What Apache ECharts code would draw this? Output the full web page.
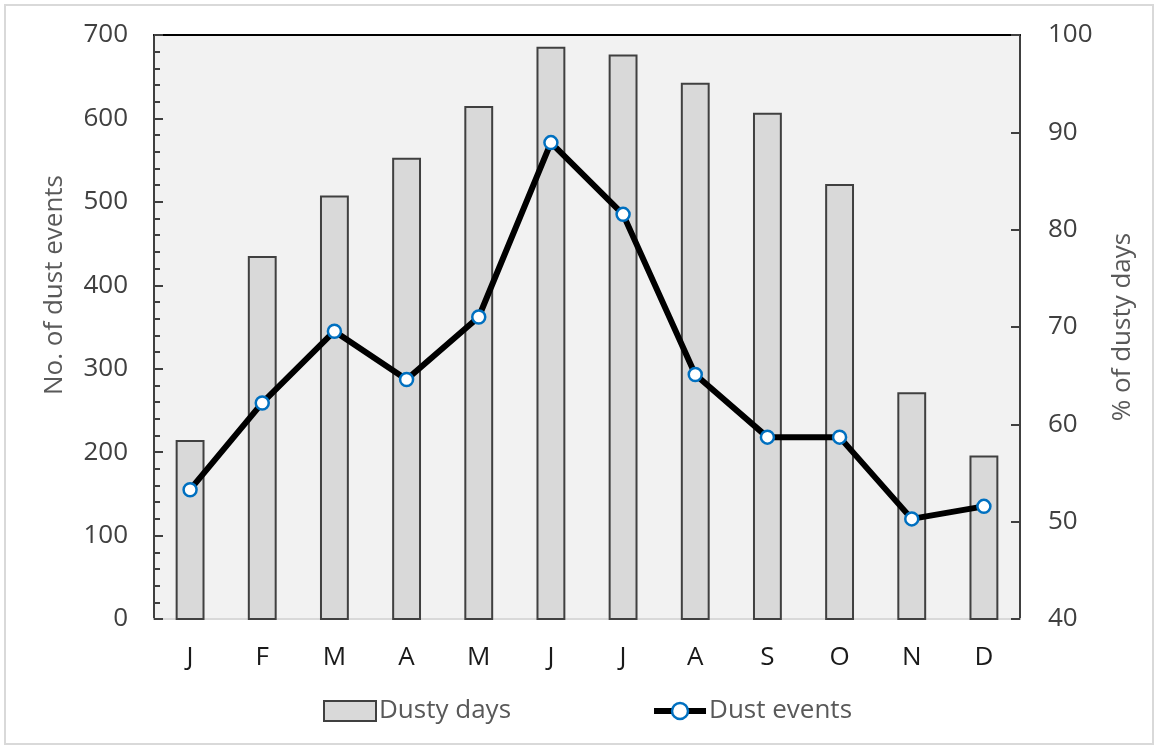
<!DOCTYPE html>
<html>
<head>
<meta charset="utf-8">
<script src="https://cdn.jsdelivr.net/npm/echarts@6/dist/echarts.min.js"></script>
<style>
  html, body { margin: 0; padding: 0; background: #ffffff; }
  #chart { width: 1158px; height: 749px; }
</style>
</head>
<body>
<div id="chart"></div>
<script>
// Months of the year
const months = ['J', 'F', 'M', 'A', 'M', 'J', 'J', 'A', 'S', 'O', 'N', 'D'];
// Percentage of dusty days per month (right axis)
const dustyDays = [58.4, 77.3, 83.5, 87.4, 92.7, 98.8, 98.0, 95.1, 92.0, 84.7, 63.3, 56.8];
// Number of dust events per month (left axis)
const dustEvents = [155, 259, 345, 287, 362, 571, 485, 293, 218, 218, 120, 135];

const FONT = '"Open Sans", "Noto Sans", sans-serif';

const chart = echarts.init(document.getElementById('chart'), null, { renderer: 'canvas' });

chart.setOption({
  backgroundColor: '#ffffff',
  animation: false,
  textStyle: { fontFamily: FONT },
  graphic: [{
    type: 'rect',
    shape: { x: 5, y: 5, width: 1148, height: 739 },
    style: { fill: 'none', stroke: '#d9d9d9', lineWidth: 2 },
    silent: true
  }],
  grid: {
    left: 154, right: 138, top: 35, bottom: 130,
    show: true, backgroundColor: '#f2f2f2', borderWidth: 0
  },
  legend: {
    bottom: 20,
    left: 318,
    itemGap: 140,
    itemWidth: 52,
    itemHeight: 20,
    textStyle: { fontFamily: FONT, fontSize: 26, color: '#595959', padding: [0, 0, 0, -2] },
    data: [
      {
        name: 'Dusty days',
        icon: 'rect',
        itemStyle: { color: '#d9d9d9', borderColor: '#404040', borderWidth: 2 }
      },
      {
        name: 'Dust events',
        lineStyle: { color: '#000000', width: 6 },
        itemStyle: { color: '#ffffff', borderColor: '#0070c0', borderWidth: 2.5 }
      }
    ]
  },
  xAxis: [{
    type: 'category',
    data: months,
    position: 'bottom',
    axisLine: { show: true, lineStyle: { color: '#d9d9d9', width: 2 } },
    axisTick: { show: false },
    axisLabel: { fontFamily: FONT, fontSize: 26, color: '#1a1a1a', margin: 26 },
    splitLine: { show: false }
  }, {
    type: 'category',
    data: months,
    position: 'top',
    axisLine: { show: true, lineStyle: { color: '#000000', width: 2 } },
    axisTick: { show: false },
    axisLabel: { show: false },
    splitLine: { show: false }
  }],
  yAxis: [{
    type: 'value',
    position: 'left',
    min: 0, max: 700, interval: 100,
    name: 'No. of dust events',
    nameLocation: 'middle',
    nameRotate: 90,
    nameGap: 86,
    nameTextStyle: { fontFamily: FONT, fontSize: 26, color: '#595959', padding: [0, 0, 0, 84] },
    axisLine: { show: true, lineStyle: { color: '#404040', width: 2 } },
    axisTick: { show: true, inside: true, length: 9, lineStyle: { color: '#404040', width: 2 } },
    minorTick: { show: true, splitNumber: 5, length: 6, lineStyle: { color: '#404040', width: 2 } },
    axisLabel: { fontFamily: FONT, fontSize: 26, color: '#404040', margin: 26 },
    splitLine: { show: false }
  }, {
    type: 'value',
    position: 'right',
    min: 40, max: 100, interval: 10,
    name: '% of dusty days',
    nameLocation: 'middle',
    nameRotate: 90,
    nameGap: 90,
    nameTextStyle: { fontFamily: FONT, fontSize: 26, color: '#595959' },
    axisLine: { show: true, lineStyle: { color: '#404040', width: 2 } },
    axisTick: { show: true, inside: true, length: 9, lineStyle: { color: '#404040', width: 2 } },
    axisLabel: { fontFamily: FONT, fontSize: 26, color: '#404040', margin: 28 },
    splitLine: { show: false }
  }],
  series: [{
    name: 'Dusty days',
    type: 'bar',
    xAxisIndex: 0,
    yAxisIndex: 1,
    data: dustyDays,
    barWidth: '40%',
    itemStyle: { color: '#d9d9d9', borderColor: '#404040', borderWidth: 2 },
    z: 2
  }, {
    name: 'Dust events',
    type: 'line',
    xAxisIndex: 0,
    yAxisIndex: 0,
    data: dustEvents,
    symbol: 'circle',
    symbolSize: 13,
    showAllSymbol: true,
    lineStyle: { color: '#000000', width: 6 },
    itemStyle: { color: '#ffffff', borderColor: '#0070c0', borderWidth: 2.5 },
    z: 3
  }]
});
</script>
</body>
</html>
